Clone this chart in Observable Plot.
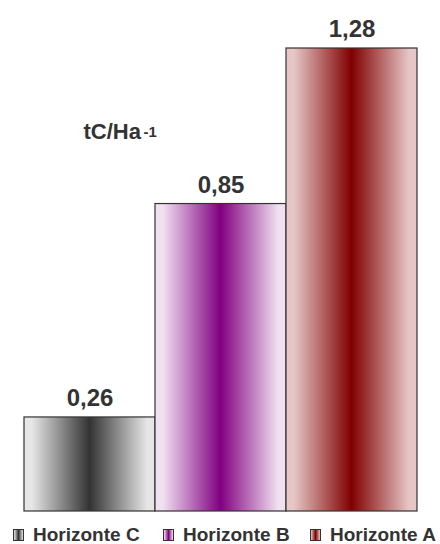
<!DOCTYPE html>
<html>
<head>
<meta charset="utf-8">
<script src="https://cdn.jsdelivr.net/npm/d3@7"></script>
<script src="https://cdn.jsdelivr.net/npm/@observablehq/plot@0.6"></script>
<style>
  body { margin: 0; background: #fff; font-family: "Liberation Sans", Arial, sans-serif; }
  #chart { width: 440px; }
  .legend { display: flex; align-items: center; height: 20px; margin-top: 9px; color: #333; font-weight: bold; font-size: 19px; }
  .legend .item { display: flex; align-items: center; position: absolute; }
  .legend .sw { width: 9px; height: 10px; border: 1px solid #333; margin-right: 9px; }
</style>
</head>
<body>
<div id="chart"></div>
<script>
const categories = ["Horizonte C", "Horizonte B", "Horizonte A"];
const values = [0.26, 0.85, 1.28];
const valueLabels = ["0,26", "0,85", "1,28"];
const unitLabel = "tC/Ha";
const unitExponent = "-1";

const edgeColors = ["#e6e6e6", "#f0e0f0", "#e6c6c6"];
const centerColors = ["#333333", "#800080", "#800000"];
const gradIds = ["gC", "gB", "gA"];

const data = categories.map((c, i) => ({cat: c, v: values[i], label: valueLabels[i], grad: `url(#${gradIds[i]})`}));

function defsMark() {
  const g = d3.create("svg:g");
  const defs = g.append("defs");
  gradIds.forEach((id, i) => {
    const lg = defs.append("linearGradient").attr("id", id).attr("x1", 0).attr("x2", 1).attr("y1", 0).attr("y2", 0);
    lg.append("stop").attr("offset", "0%").attr("stop-color", edgeColors[i]);
    lg.append("stop").attr("offset", "6%").attr("stop-color", edgeColors[i]);
    lg.append("stop").attr("offset", "50%").attr("stop-color", centerColors[i]);
    lg.append("stop").attr("offset", "94%").attr("stop-color", edgeColors[i]);
    lg.append("stop").attr("offset", "100%").attr("stop-color", edgeColors[i]);
  });
  return g.node();
}

const H = 516;
const base = 511;
const pxPerUnit = (511 - 48) / 1.28;

const plot = Plot.plot({
  width: 440,
  height: H,
  marginLeft: 23,
  marginRight: 22,
  marginTop: 0,
  marginBottom: H - base,
  x: {domain: categories, padding: 0, axis: null},
  y: {domain: [0, base / pxPerUnit], axis: null},
  style: {fontFamily: "'Liberation Sans', Arial, sans-serif", color: "#333"},
  marks: [
    defsMark,
    Plot.barY(data, {x: "cat", y: "v", fill: "grad", stroke: "#333", strokeWidth: 1.2}),
    Plot.text(data, {x: "cat", y: "v", text: "label", dy: -19, fontSize: 24, fontWeight: "bold", fill: "#333"}),
    Plot.text([unitLabel], {frameAnchor: "top-left", dx: 60, dy: 131, lineAnchor: "middle", textAnchor: "start", fontSize: 22, fontWeight: "bold", fill: "#333"}),
    Plot.text([unitExponent], {frameAnchor: "top-left", dx: 120, dy: 132, lineAnchor: "middle", textAnchor: "start", fontSize: 15, fontWeight: "bold", fill: "#333"})
  ]
});
document.getElementById("chart").appendChild(plot);

const legend = document.createElement("div");
legend.className = "legend";
legend.style.position = "relative";
const lefts = [13, 163, 310];
categories.forEach((c, i) => {
  const it = document.createElement("div");
  it.className = "item";
  it.style.left = lefts[i] + "px";
  const sw = document.createElement("span");
  sw.className = "sw";
  sw.style.background = `linear-gradient(to right, ${edgeColors[i]}, ${centerColors[i]}, ${edgeColors[i]})`;
  const t = document.createElement("span");
  t.textContent = c;
  it.appendChild(sw);
  it.appendChild(t);
  legend.appendChild(it);
});
document.body.appendChild(legend);
</script>
</body>
</html>
